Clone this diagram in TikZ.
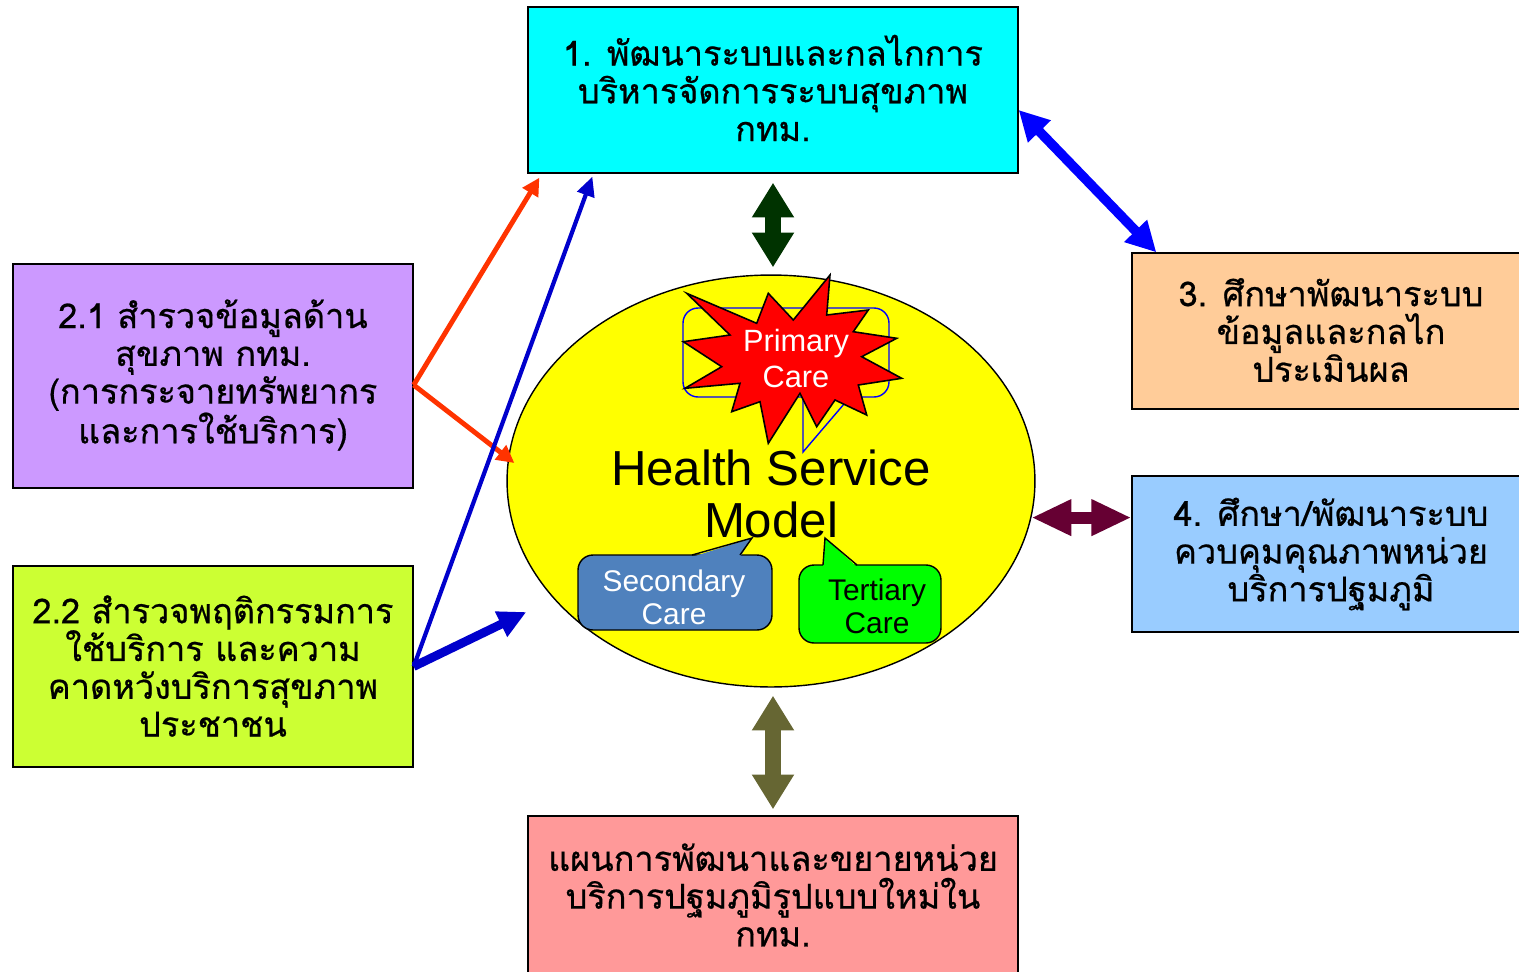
\documentclass[tikz,border=0pt]{standalone}
\usepackage{fontspec}
\newfontfamily\thaifont[Script=Thai,FakeBold=0.6]{Loma}
\newfontfamily\arialf{Liberation Sans}
\usetikzlibrary{shapes.geometric,arrows.meta,calc}
\definecolor{cCyan}{HTML}{00FFFF}
\definecolor{cPurple}{HTML}{CC99FF}
\definecolor{cLime}{HTML}{CCFF33}
\definecolor{cPeach}{HTML}{FFCC99}
\definecolor{cLBlue}{HTML}{99CCFF}
\definecolor{cPink}{HTML}{FF9999}
\definecolor{cYellow}{HTML}{FFFF00}
\definecolor{cRed}{HTML}{FF0000}
\definecolor{cSec}{HTML}{4F81BD}
\definecolor{cTer}{HTML}{00FF00}
\definecolor{cDGreen}{HTML}{003300}
\definecolor{cOlive}{HTML}{666633}
\definecolor{cMaroon}{HTML}{660033}
\definecolor{cBlue}{HTML}{0000FF}
\definecolor{cDBlue}{HTML}{0000CC}
\definecolor{cOrange}{HTML}{FF3300}
\begin{document}
\begin{tikzpicture}[x=0.02cm,y=-0.02cm,
  box/.style={draw=black, line width=0.8pt, inner sep=0pt, align=center,
    font=\thaifont\fontsize{19.5}{21.5}\selectfont},
  btext/.style={align=center, inner sep=0pt, font=\thaifont\fontsize{19.5}{21.5}\selectfont},
  bubble/.style={draw=black, line width=0.8pt, rounded corners=0.3cm, inner sep=0pt},
  latin/.style={align=center, font=\arialf\fontsize{17.5}{21}\selectfont},
  dgarrow/.style={draw=cDGreen, line width=9.6pt, {Triangle[width=22.7pt,length=19.8pt]}-{Triangle[width=22.7pt,length=19.8pt]}},
  olarrow/.style={draw=cOlive, line width=9.6pt, {Triangle[width=22.7pt,length=19.8pt]}-{Triangle[width=22.7pt,length=19.8pt]}},
  mrarrow/.style={draw=cMaroon, line width=6.8pt, {Triangle[width=19.3pt,length=22.7pt]}-{Triangle[width=19.3pt,length=22.7pt]}},
  bdarrow/.style={draw=cBlue, line width=5.5pt, {Triangle[width=17pt,length=17pt]}-{Triangle[width=17pt,length=17pt]}},
  orarrow/.style={draw=cOrange, line width=2.8pt, -{Triangle[width=10pt,length=10pt]}},
  dbthin/.style={draw=cDBlue, line width=2.4pt, -{Triangle[width=10pt,length=11pt]}},
  dbthick/.style={draw=cDBlue, line width=5pt, -{Triangle[width=15pt,length=16pt]}}
]
\useasboundingbox (0,0) rectangle (1519,971);
\clip (0,0) rectangle (1519,971);

% boxes
\node[box, fill=cCyan, minimum width=9.8cm, minimum height=3.32cm] (box1) at (773,90) {};
\node[btext] (t1) at (773,88) {1. พัฒนาระบบและกลไกการ\\บริหารจัดการระบบสุขภาพ\\กทม.};
\node[box, fill=cPurple, minimum width=8cm, minimum height=4.48cm] (box21) at (213,376) {};
\node[btext] (t21) at (213,375) {2.1 สำรวจข้อมูลด้าน\\สุขภาพ กทม.\\(การกระจายทรัพยากร\\และการใช้บริการ)};
\node[box, fill=cLime, minimum width=8cm, minimum height=4.02cm] (box22) at (213,666.5) {};
\node[btext] (t22) at (213,666) {2.2 สำรวจพฤติกรรมการ\\ใช้บริการ และความ\\คาดหวังบริการสุขภาพ\\ประชาชน};
\node[box, fill=cPeach, minimum width=7.96cm, minimum height=3.12cm] (box3) at (1331,331) {};
\node[btext] (t3) at (1331,330) {3. ศึกษาพัฒนาระบบ\\ข้อมูลและกลไก\\ประเมินผล};
\node[box, fill=cLBlue, minimum width=7.96cm, minimum height=3.12cm] (box4) at (1331,554) {};
\node[btext] (t4) at (1331,554) {4. ศึกษา/พัฒนาระบบ\\ควบคุมคุณภาพหน่วย\\บริการปฐมภูมิ};
\node[box, fill=cPink, minimum width=9.8cm, minimum height=3.24cm] (box5) at (773,897) {};
\node[btext] (t5) at (773,895) {แผนการพัฒนาและขยายหน่วย\\บริการปฐมภูมิรูปแบบใหม่ใน\\กทม.};

% central ellipse
\node[ellipse, draw=black, fill=cYellow, line width=0.8pt, inner sep=0pt,
  minimum width=10.56cm, minimum height=8.24cm] (hsm) at (771,481) {};

% primary care callout (outline only)
\node[draw=cBlue, line width=0.8pt, rounded corners=0.3cm, inner sep=0pt,
  minimum width=4.12cm, minimum height=1.78cm] (pcall) at (786,352.5) {};
\draw[cBlue, line width=0.8pt] (803,397) -- (803,452) -- (850,397);

% star
\draw[black, line width=0.9pt, fill=cRed, line join=miter]
  (686.7,293.3) -- (756.7,323.3) -- (768.3,293.3) -- (793.3,320) -- (830,275)
  -- (826.7,315) -- (868.3,310) -- (853.3,331.7) -- (896.7,338.3) -- (861.7,356.7)
  -- (901.7,378.3) -- (858.3,385) -- (866.7,415) -- (835,400) -- (816.7,426.7)
  -- (800,393.3) -- (768.3,443.3) -- (760,401.7) -- (731.7,411.7) -- (740,383.3)
  -- (685,388.3) -- (721.7,366.7) -- (683.3,341.7) -- (730,335) -- cycle;
\node[latin, text=white] (ptext) at (796,358.5) {Primary\\Care};

% secondary care
\node[bubble, fill=cSec, minimum width=3.88cm, minimum height=1.5cm] (sec) at (675,592.5) {};
\fill[cSec] (692,557) -- (752,538) -- (740,557) -- cycle;
\draw[black, line width=0.8pt, line join=miter] (692,555) -- (752,538) -- (740,555);
\node[latin, text=white, font=\arialf\fontsize{17}{18.7}\selectfont] (sect) at (674,597.5) {Secondary\\Care};

% tertiary care
\node[bubble, fill=cTer, minimum width=2.84cm, minimum height=1.56cm] (ter) at (870,604) {};
\fill[cTer] (823,567) -- (825,538) -- (857,567) -- cycle;
\draw[black, line width=0.8pt, line join=miter] (823,565) -- (825,538) -- (857,565);
\node[latin, text=black, font=\arialf\fontsize{17}{18.7}\selectfont] (tert) at (877,606) {Tertiary\\Care};

% title
\node[align=center, font=\arialf\fontsize{28}{29.5}\selectfont] (hsmt) at (771,494) {Health Service\\Model};

% connectors
\draw[dgarrow, shorten <=0.18cm, shorten >=0.14cm] (box1.south) -- (box1.south |- hsm.north);
\draw[olarrow, shorten <=0.16cm, shorten >=0.12cm] (box5.north |- hsm.south) -- (box5.north);
\draw[mrarrow] (hsm.-8.8) -- (hsm.-8.8 -| box4.west);
\draw[bdarrow] ([yshift=-0.4cm]box1.east) -- ([xshift=0.5cm]box3.north west);

\coordinate (o21) at ([yshift=-0.18cm]box21.east);
\draw[orarrow] (o21) -- ([shift={(12,4)}]box1.south west);
\draw[orarrow] (o21) -- ([shift={(8,-18)}]hsm.west);

\coordinate (b22) at (box22.east);
\draw[dbthin] (b22) -- ([shift={(65,3)}]box1.south west);
\draw[dbthick] (b22) -- ([shift={(20,131)}]hsm.west);
\end{tikzpicture}
\end{document}
